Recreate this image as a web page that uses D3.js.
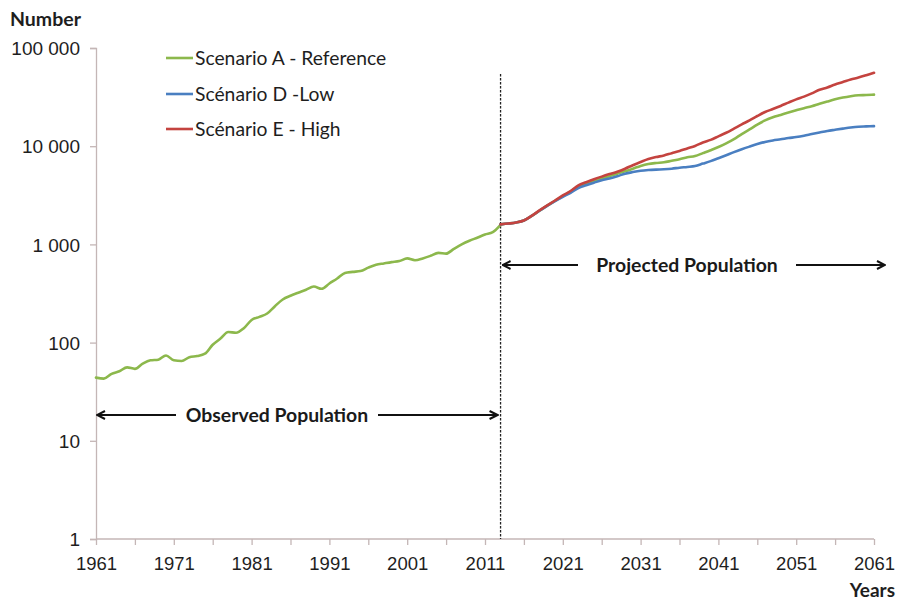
<!DOCTYPE html>
<html>
<head>
<meta charset="utf-8">
<script src="https://cdn.jsdelivr.net/npm/d3@7"></script>
<style>
  html, body { margin: 0; padding: 0; background: #fff; }
  svg { display: block; font-family: Lato, "Liberation Sans", sans-serif; }
</style>
</head>
<body>
<svg id="chart" width="897" height="603"></svg>
<script>
// ---- Data ----
const observedYears = d3.range(1961, 2014);
const observedValues = [
  44, 43, 48, 51, 56, 54, 61, 66, 67, 74,
  66, 65, 71, 73, 77, 95, 110, 128, 126, 140,
  170, 183, 198, 235, 275, 300, 322, 345, 372, 353,
  400, 450, 512, 525, 535, 580, 620, 640, 660, 677,
  720, 690, 720, 765, 820, 805, 900, 1000, 1090, 1170,
  1260, 1330, 1580
];
const projectedYears = d3.range(2013, 2062);
const scenarioA = [
  1600, 1630, 1670, 1750, 1950, 2200, 2480, 2780, 3100, 3450,
  3900, 4150, 4450, 4700, 4950, 5250, 5550, 5900, 6300, 6600,
  6750, 6850, 7100, 7350, 7700, 7950, 8500, 9100, 9800, 10700,
  11800, 13300, 14800, 16600, 18300, 19700, 20800, 22000, 23200, 24400,
  25500, 27000, 28500, 30000, 31300, 32300, 33000, 33200, 33500
];
const scenarioD = [
  1600, 1630, 1670, 1750, 1950, 2200, 2470, 2760, 3050, 3350,
  3750, 4000, 4250, 4500, 4700, 4950, 5250, 5450, 5620, 5720,
  5780, 5820, 5900, 6040, 6150, 6280, 6650, 7050, 7550, 8100,
  8700, 9300, 9900, 10500, 11050, 11450, 11750, 12100, 12400, 12800,
  13300, 13800, 14300, 14700, 15100, 15500, 15800, 15900, 16000
];
const scenarioE = [
  1600, 1630, 1670, 1750, 1950, 2220, 2500, 2800, 3150, 3500,
  4000, 4300, 4600, 4900, 5200, 5500, 5900, 6400, 6900, 7400,
  7750, 8050, 8500, 8950, 9500, 10050, 10900, 11600, 12600, 13700,
  15100, 16700, 18300, 20300, 22300, 23900, 25700, 27800, 30000, 32000,
  34500, 37500, 39700, 42500, 45000, 47800, 50000, 52800, 56000
];
const seriesNames = ["Scenario A - Reference", "Scénario D -Low", "Scénario E - High"];
const seriesColors = ["#8cb84c", "#4a7fc1", "#c4433f"];
const xTickYears = d3.range(1961, 2062, 10);
const xMinorYears = d3.range(1961, 2062, 5);
const yTickValues = [1, 10, 100, 1000, 10000, 100000];
const projectionStart = 2013;

// ---- Layout ----
const svg = d3.select("#chart");
const x = d3.scaleLinear().domain([1961, 2061]).range([96, 874]);
const y = d3.scaleLog().domain([1, 100000]).range([539, 48]);
const axisColor = "#c4b6b6";
const textColor = "#1e1e1e";
const fmt = v => d3.format(",")(v).replace(/,/g, " ");

// Y axis
const yAxis = svg.append("g").attr("transform", `translate(${x(1961)},0)`)
  .call(d3.axisLeft(y).tickValues(yTickValues).tickFormat(fmt).tickSize(6).tickPadding(10));
yAxis.select(".domain").attr("stroke", axisColor).attr("stroke-width", 1.3);
yAxis.selectAll(".tick line").attr("stroke", axisColor).attr("stroke-width", 1.3);
yAxis.selectAll(".tick text").attr("fill", textColor).attr("font-size", 19).attr("dy", "0.35em");

// X axis
const xAxis = svg.append("g").attr("transform", `translate(0,${y(1)})`)
  .call(d3.axisBottom(x).tickValues(xMinorYears).tickFormat(d => xTickYears.includes(d) ? d : "").tickSize(6).tickPadding(9));
xAxis.select(".domain").attr("stroke", axisColor).attr("stroke-width", 1.3).attr("d", `M${x(1961)},0H${x(2061)}`);
xAxis.selectAll(".tick line").attr("stroke", axisColor).attr("stroke-width", 1.3);
xAxis.selectAll(".tick text").attr("fill", textColor).attr("font-size", 18.5).attr("dy", "0.85em");

// Axis titles
svg.append("text").attr("x", 10).attr("y", 26).attr("font-size", 19.5).attr("font-weight", "bold")
  .attr("fill", textColor).text("Number");
svg.append("text").attr("x", 895).attr("y", 597).attr("text-anchor", "end").attr("font-size", 19)
  .attr("font-weight", "bold").attr("fill", textColor).text("Years");

// Projection divider (dashed)
svg.append("line").attr("x1", x(projectionStart)).attr("x2", x(projectionStart))
  .attr("y1", y(100000) + 26).attr("y2", y(1))
  .attr("stroke", "#222").attr("stroke-width", 1.3).attr("stroke-dasharray", "2.5,1.5");

// Lines
const line = d3.line().x(d => x(d[0])).y(d => y(d[1])).curve(d3.curveMonotoneX);
const zip = (ys, vs) => ys.map((yr, i) => [yr, vs[i]]);
const drawLine = (pts, color) => svg.append("path").datum(pts).attr("d", line)
  .attr("fill", "none").attr("stroke", color).attr("stroke-width", 2.6)
  .attr("stroke-linejoin", "round").attr("stroke-linecap", "round");
drawLine(zip(observedYears, observedValues), seriesColors[0]);
drawLine(zip(projectedYears, scenarioA), seriesColors[0]);
drawLine(zip(projectedYears, scenarioD), seriesColors[1]);
drawLine(zip(projectedYears, scenarioE), seriesColors[2]);

// Legend
const legendY = [58, 94, 129];
seriesNames.forEach((name, i) => {
  svg.append("line").attr("x1", 166).attr("x2", 193).attr("y1", legendY[i]).attr("y2", legendY[i])
    .attr("stroke", seriesColors[i]).attr("stroke-width", 2.6);
  svg.append("text").attr("x", 195).attr("y", legendY[i]).attr("dy", "0.35em")
    .attr("font-size", 19.3).attr("fill", textColor).text(name);
});

// Annotations with arrows
const defs = svg.append("defs");
defs.append("marker").attr("id", "arrow").attr("viewBox", "0 0 10 10").attr("refX", 9).attr("refY", 5)
  .attr("markerWidth", 10).attr("markerHeight", 10).attr("markerUnits", "userSpaceOnUse").attr("orient", "auto-start-reverse")
  .append("path").attr("d", "M1,1 L9,5 L1,9").attr("fill", "none").attr("stroke", "#111").attr("stroke-width", 2);

function annotate(label, yPos, x0, x1, tx0, tx1, cx) {
  svg.append("line").attr("x1", x0).attr("x2", tx0).attr("y1", yPos).attr("y2", yPos)
    .attr("stroke", "#111").attr("stroke-width", 2.2).attr("marker-start", "url(#arrow)");
  svg.append("line").attr("x1", tx1).attr("x2", x1).attr("y1", yPos).attr("y2", yPos)
    .attr("stroke", "#111").attr("stroke-width", 2.2).attr("marker-end", "url(#arrow)");
  svg.append("text").attr("x", cx).attr("y", yPos).attr("dy", "0.35em").attr("text-anchor", "middle")
    .attr("font-size", 19.4).attr("font-weight", "bold").attr("fill", "#1a1a1a").text(label);
}
annotate("Observed Population", 415, x(1961) + 1, x(projectionStart) - 3, 176, 378, 277);
annotate("Projected Population", 265, x(projectionStart) + 2, 885, 578, 796, 687);
</script>
</body>
</html>
